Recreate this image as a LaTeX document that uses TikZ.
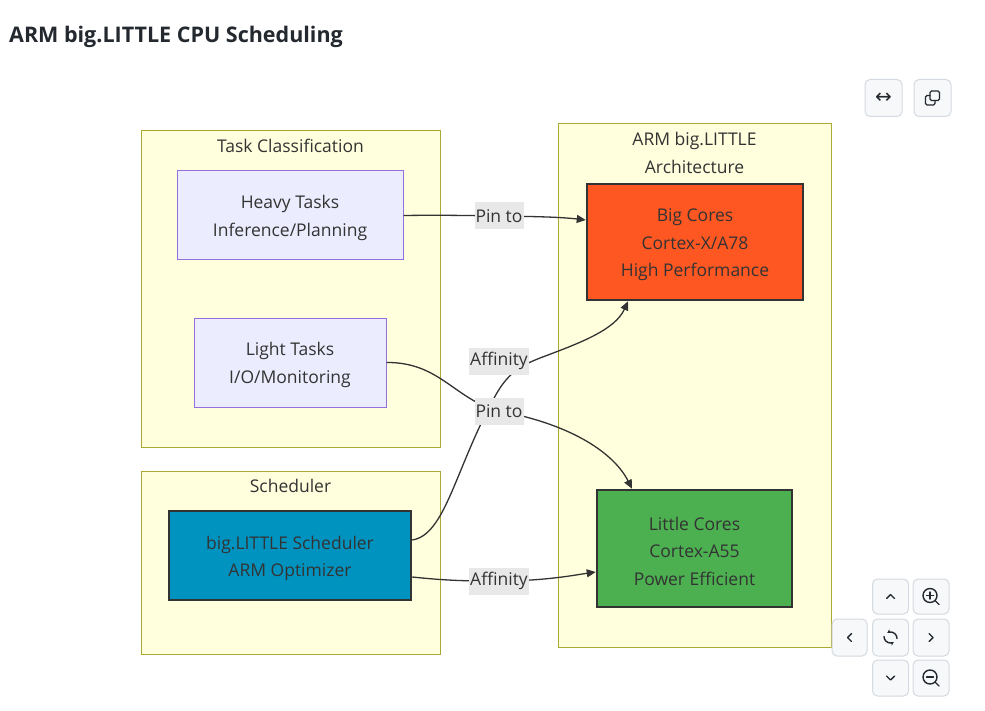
\documentclass[tikz,border=0pt]{standalone}
\usepackage{fontspec}
\setmainfont{Open Sans}
\newfontfamily\titlefont{Open Sans}
\newfontfamily\symfont{DejaVu Sans}
\usetikzlibrary{arrows.meta,calc}
\definecolor{clfill}{HTML}{FFFFDE}
\definecolor{cldraw}{HTML}{AAAA33}
\definecolor{ndfill}{HTML}{ECECFF}
\definecolor{nddraw}{HTML}{9370DB}
\definecolor{txt}{HTML}{333333}
\definecolor{bigc}{HTML}{FF5722}
\definecolor{littlec}{HTML}{4CAF50}
\definecolor{schedc}{HTML}{0093C0}
\definecolor{lblbg}{HTML}{E8E8E8}
\definecolor{btnfill}{HTML}{F6F8FA}
\definecolor{btndraw}{HTML}{D5DAE0}
\definecolor{icon}{HTML}{24292F}
\newcommand{\tstrut}{\rule{0pt}{19pt}}
\tikzset{
  cluster/.style={draw=cldraw, fill=clfill, line width=1pt, inner sep=0pt},
  cltitle/.style={text=txt, font=\fontsize{17.5}{28}\selectfont, align=center, inner sep=0pt},
  tasknode/.style={draw=nddraw, fill=ndfill, line width=1pt, text=txt, align=center,
    font=\fontsize{17.5}{28}\selectfont, inner sep=0pt},
  corenode/.style={draw=txt, line width=2.5pt, text=txt, align=center,
    font=\fontsize{17.5}{27.5}\selectfont, inner sep=0pt},
  edge/.style={draw=txt, line width=1.3pt, -{Triangle[length=9pt,width=8pt]}},
  elabel/.style={fill=lblbg, text=txt, font=\fontsize{17.5}{18}\selectfont, inner xsep=1pt, inner ysep=0pt, minimum height=27pt},
  btn/.style={draw=btndraw, fill=btnfill, line width=1pt, rounded corners=5pt, minimum width=37pt, minimum height=37pt, inner sep=0pt},
  ic/.style={draw=icon, line width=1.4pt, line cap=round, line join=round}
}
\begin{document}
\begin{tikzpicture}[x=1pt,y=-1pt]
\useasboundingbox[fill=white] (0,0) rectangle (985,711);

% title
\node[anchor=west, inner sep=0pt, text=icon, font=\titlefont\bfseries\fontsize{21.5}{24}\selectfont] (title) at (9,37) {ARM big.LITTLE CPU Scheduling};

% clusters
\node[cluster, minimum width=299pt, minimum height=316pt] (tc) at (290.5,289) {};
\node[cltitle] (tct) at (290.5,146) {Task Classification};
\node[cluster, minimum width=299pt, minimum height=183pt] (sc) at (290.5,562.5) {};
\node[cltitle] (sct) at (290.5,486) {Scheduler};
\node[cluster, minimum width=273pt, minimum height=523pt] (ac) at (694.5,385.5) {};
\node[cltitle] (act) at (694.5,153) {ARM big.LITTLE\\Architecture};

% nodes
\node[tasknode, minimum width=226pt, minimum height=89pt] (heavy) at (290,215.5) {\tstrut Heavy Tasks\\Inference/Planning};
\node[tasknode, minimum width=192pt, minimum height=89pt] (light) at (290,362.5) {\tstrut Light Tasks\\I/O/Monitoring};
\node[corenode, fill=schedc, minimum width=242pt, minimum height=89pt] (sched) at (290,555.5) {\tstrut big.LITTLE Scheduler\\ARM Optimizer};
\node[corenode, fill=bigc, minimum width=216pt, minimum height=116pt] (big) at (695,242) {\tstrut Big Cores\\Cortex-X/A78\\High Performance};
\node[corenode, fill=littlec, minimum width=195pt, minimum height=117pt] (little) at (694.5,548.5) {\tstrut Little Cores\\Cortex-A55\\Power Efficient};

% edges
\draw[edge] (heavy.east) .. controls (440,215) and (470,215.5) .. (499,216)
   .. controls (535,216.5) and (560,217) .. ([yshift=22pt]big.west);
\draw[edge] (light.east) .. controls (440,362) and (455,400) .. (499,411)
   .. controls (575,425) and (615,455) .. ([xshift=-62.5pt]little.north);
\draw[edge] ([yshift=15.5pt]sched.east) .. controls (445,535) and (455,470) .. (493,400)
   .. controls (507,373) and (520,366) .. (540,358)
   .. controls (580,343) and (615,330) .. ([xshift=-67pt]big.south);
\draw[edge] ([yshift=-21.5pt]sched.east) .. controls (450,581) and (470,581) .. (499,581)
   .. controls (545,581) and (575,575) .. ([yshift=-23.5pt]little.west);

% edge labels
\node[elabel] (l1) at (499,216) {Pin to};
\node[elabel] (l2) at (499,361) {Affinity};
\node[elabel] (l3) at (499,411) {Pin to};
\node[elabel] (l4) at (499,581) {Affinity};

% buttons
\node[btn] (bexp) at (883.5,98) {};
\node[text=icon, font=\symfont\fontsize{20}{20}\selectfont, inner sep=0pt] (bexpi) at (bexp.center) {↔};
\node[btn] (bcopy) at (932.5,98) {};
\draw[ic, line width=1.3pt, rounded corners=1.5pt] ($(bcopy.center)+(-2.5,-7)$) rectangle ($(bcopy.center)+(7,2.5)$);
\draw[ic, line width=1.3pt, rounded corners=1.5pt] ($(bcopy.center)+(-2.5,-2.5)$) -- ($(bcopy.center)+(-7,-2.5)$) -- ($(bcopy.center)+(-7,7)$) -- ($(bcopy.center)+(2.5,7)$) -- ($(bcopy.center)+(2.5,2.5)$);

\node[btn, minimum width=36pt, minimum height=35pt] (bup) at (890.5,596.5) {};
\draw[ic] ($(bup.center)+(-4,2)$) -- ($(bup.center)+(0,-2)$) -- ($(bup.center)+(4,2)$);
\node[btn, minimum width=36pt, minimum height=35pt] (bzin) at (931,596.5) {};
\draw[ic] ($(bzin.center)+(-1,-1)$) circle (7pt);
\draw[ic] ($(bzin.center)+(4,4)$) -- ($(bzin.center)+(8,8)$);
\draw[ic] ($(bzin.center)+(-4.5,-1)$) -- ($(bzin.center)+(2.5,-1)$);
\draw[ic] ($(bzin.center)+(-1,-4.5)$) -- ($(bzin.center)+(-1,2.5)$);

\node[btn, minimum width=35pt, minimum height=37pt] (bleft) at (849.5,637.5) {};
\draw[ic] ($(bleft.center)+(2,-4)$) -- ($(bleft.center)+(-2,0)$) -- ($(bleft.center)+(2,4)$);
\node[btn, minimum width=36pt, minimum height=37pt] (breset) at (890.5,637.5) {};
\draw[ic, -{Stealth[length=3.5pt,width=4pt]}] ($(breset.center)+(-6.5,-1)$) arc[start angle=180, end angle=300, radius=6.5pt];
\draw[ic, -{Stealth[length=3.5pt,width=4pt]}] ($(breset.center)+(6.5,1)$) arc[start angle=0, end angle=120, radius=6.5pt];
\node[btn, minimum width=36pt, minimum height=37pt] (bright) at (931,637.5) {};
\draw[ic] ($(bright.center)+(-2,-4)$) -- ($(bright.center)+(2,0)$) -- ($(bright.center)+(-2,4)$);

\node[btn, minimum width=36pt, minimum height=36pt] (bdown) at (890.5,678) {};
\draw[ic] ($(bdown.center)+(-4,-2)$) -- ($(bdown.center)+(0,2)$) -- ($(bdown.center)+(4,-2)$);
\node[btn, minimum width=36pt, minimum height=36pt] (bzout) at (931,678) {};
\draw[ic] ($(bzout.center)+(-1,-1)$) circle (7pt);
\draw[ic] ($(bzout.center)+(4,4)$) -- ($(bzout.center)+(8,8)$);
\draw[ic] ($(bzout.center)+(-4.5,-1)$) -- ($(bzout.center)+(2.5,-1)$);
\end{tikzpicture}
\end{document}
